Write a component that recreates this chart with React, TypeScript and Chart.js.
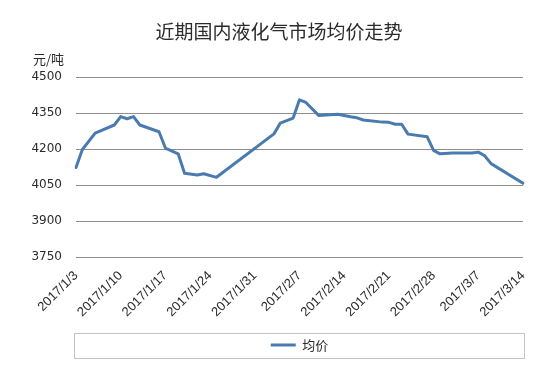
import React, { useEffect, useRef } from 'react';
import { Chart, registerables } from 'chart.js';

Chart.register(...registerables);

// All calendar days shown on the axis (2017/1/3 .. 2017/3/14)
const startDate = new Date(2017, 0, 3);
const dayCount = 71;
const categories: string[] = [];
for (let i = 0; i < dayCount; i++) {
  const d = new Date(startDate.getFullYear(), startDate.getMonth(), startDate.getDate() + i);
  categories.push(`${d.getFullYear()}/${d.getMonth() + 1}/${d.getDate()}`);
}

// Trading days with quotes
const tradeDates = [
  '2017/1/3', '2017/1/4', '2017/1/6', '2017/1/9', '2017/1/10', '2017/1/11', '2017/1/12',
  '2017/1/13', '2017/1/16', '2017/1/17', '2017/1/19', '2017/1/20', '2017/1/22', '2017/1/23',
  '2017/1/25', '2017/2/3', '2017/2/4', '2017/2/6', '2017/2/7', '2017/2/8', '2017/2/10',
  '2017/2/13', '2017/2/15', '2017/2/16', '2017/2/17', '2017/2/20', '2017/2/21', '2017/2/22',
  '2017/2/23', '2017/2/24', '2017/2/27', '2017/2/28', '2017/3/1', '2017/3/3', '2017/3/6',
  '2017/3/7', '2017/3/8', '2017/3/9', '2017/3/14',
];
const avgPrice = [
  4123, 4198, 4266, 4300, 4335, 4326, 4335,
  4300, 4272, 4204, 4180, 4099, 4092, 4097,
  4082, 4263, 4308, 4329, 4405, 4394, 4340,
  4345, 4334, 4330, 4321, 4312, 4311, 4303,
  4303, 4262, 4251, 4194, 4180, 4183, 4183,
  4187, 4172, 4139, 4057,
];

const yMin = 3750;
const yMax = 4500;
const yStep = 150;
const tickEvery = 7;

const titleText = '近期国内液化气市场均价走势';
const unitText = '元/吨';
const seriesName = '均价';

const LINE_COLOR = '#4a7bb0';
const GRID_COLOR = '#8e8e8e';
const TEXT_COLOR = '#2b2b2b';
const NUM_FONT = '"DejaVu Sans", "Liberation Sans", sans-serif';
const DATE_FONT = '"Liberation Sans", "DejaVu Sans", sans-serif';
const CJK_FONT = '"Noto Sans CJK SC", "Noto Sans", sans-serif';

const decorPlugin = {
  id: 'decor',
  afterDraw(chart: any) {
    const { ctx, chartArea, legend } = chart;
    ctx.save();
    ctx.fillStyle = TEXT_COLOR;
    ctx.textBaseline = 'middle';
    ctx.textAlign = 'center';
    ctx.font = `19px ${CJK_FONT}`;
    ctx.fillText(titleText, 279, 32);
    ctx.font = `13px ${CJK_FONT}`;
    ctx.textAlign = 'left';
    ctx.fillText(unitText, 33, 59);
    if (legend) {
      ctx.strokeStyle = '#c4c4c4';
      ctx.lineWidth = 1;
      ctx.strokeRect(chartArea.left - 1.5, Math.round(legend.top) + 0.5, chartArea.right - chartArea.left + 3, 25);
    }
    ctx.restore();
  },
};

export default function App() {
  const ref = useRef<HTMLCanvasElement | null>(null);

  useEffect(() => {
    document.body.style.margin = '0';
    const canvas = ref.current;
    if (!canvas) return;
    const chart = new Chart(canvas, {
      type: 'line',
      data: {
        labels: categories,
        datasets: [
          {
            label: seriesName,
            data: tradeDates.map((d, i) => ({ x: d, y: avgPrice[i] })),
            borderColor: LINE_COLOR,
            backgroundColor: LINE_COLOR,
            borderWidth: 3,
            pointRadius: 0,
            pointHoverRadius: 0,
            tension: 0,
            borderJoinStyle: 'round',
            borderCapStyle: 'round',
          } as any,
        ],
      },
      options: {
        responsive: false,
        animation: false,
        layout: { padding: { left: 0, right: 31, top: 77, bottom: 8.5 } },
        plugins: {
          title: { display: false },
          legend: {
            display: true,
            position: 'bottom',
            fullSize: false,
            labels: {
              usePointStyle: true,
              pointStyle: 'line',
              pointStyleWidth: 25,
              color: TEXT_COLOR,
              font: { family: CJK_FONT, size: 13 },
              padding: 6,
            },
          },
          tooltip: { enabled: false },
        },
        scales: {
          x: {
            type: 'category',
            offset: false,
            grid: { display: false, drawTicks: false },
            border: { display: false },
            ticks: {
              autoSkip: false,
              minRotation: 45,
              maxRotation: 45,
              padding: 11,
              color: TEXT_COLOR,
              font: { family: DATE_FONT, size: 13 },
              callback: (_v: any, i: number) => (i % tickEvery === 0 ? categories[i] : ''),
            },
            afterFit: (scale: any) => {
              scale.height = 75.5;
            },
          },
          y: {
            min: yMin,
            max: yMax,
            grid: { color: GRID_COLOR, lineWidth: 1, drawTicks: false },
            border: { display: false },
            ticks: {
              stepSize: yStep,
              padding: 14,
              color: TEXT_COLOR,
              font: { family: NUM_FONT, size: 12 },
              callback: (v: any) => String(v),
            },
            afterFit: (scale: any) => {
              scale.width = 76;
            },
          },
        },
      },
      plugins: [decorPlugin],
    });
    return () => chart.destroy();
  }, []);

  return (
    <div style={{ width: 554, height: 370, background: '#fff' }}>
      <canvas ref={ref} width={554} height={370} style={{ display: 'block' }} />
    </div>
  );
}
